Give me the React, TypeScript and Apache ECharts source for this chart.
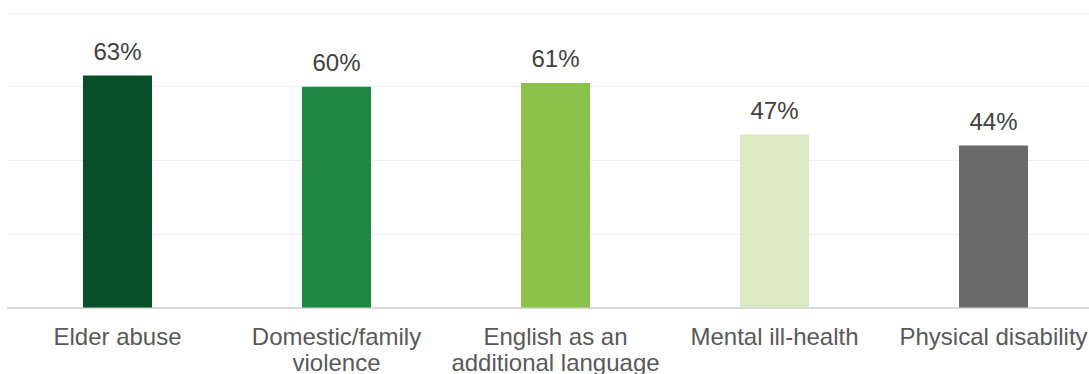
import React, { useEffect, useRef } from "react";
import * as echarts from "echarts";

const categories = [
  "Elder abuse",
  "Domestic/family\nviolence",
  "English as an\nadditional language",
  "Mental ill-health",
  "Physical disability",
];
const values = [63, 60, 61, 47, 44];
const barColors = ["#064f29", "#1f8844", "#8bc34a", "#dbe9c5", "#6a6a6a"];
const yTicks = [0, 20, 40, 60, 80];

export default function App() {
  const ref = useRef<HTMLDivElement>(null);
  useEffect(() => {
    document.body.style.margin = "0";
    const chart = echarts.init(ref.current!, null, { renderer: "svg" });
    chart.setOption({
      animation: false,
      textStyle: { fontFamily: "'Liberation Sans', Arial, sans-serif" },
      grid: {
        left: 8,
        width: 1095,
        top: 13,
        bottom: 66.5,
        containLabel: false,
        outerBoundsMode: "none",
      },
      xAxis: {
        type: "category",
        data: categories,
        axisTick: { show: false },
        axisLine: { lineStyle: { color: "#d9d9d9", width: 2 } },
        axisLabel: {
          color: "#595959",
          fontSize: 24,
          lineHeight: 25.5,
          margin: 16.5,
          interval: 0,
          hideOverlap: false,
        },
      },
      yAxis: {
        type: "value",
        min: yTicks[0],
        max: yTicks[yTicks.length - 1],
        interval: 20,
        axisLabel: { show: false },
        axisLine: { show: false },
        axisTick: { show: false },
        splitLine: { lineStyle: { color: "#f0f0f0", width: 1 } },
      },
      series: [
        {
          type: "bar",
          barWidth: 69,
          data: values.map((v, i) => ({ value: v, itemStyle: { color: barColors[i] } })),
          label: {
            show: true,
            position: "top",
            distance: 12,
            color: "#404040",
            fontSize: 24,
            formatter: "{c}%",
          },
        },
      ],
    });
    return () => chart.dispose();
  }, []);
  return <div ref={ref} style={{ width: 1089, height: 374 }} />;
}
